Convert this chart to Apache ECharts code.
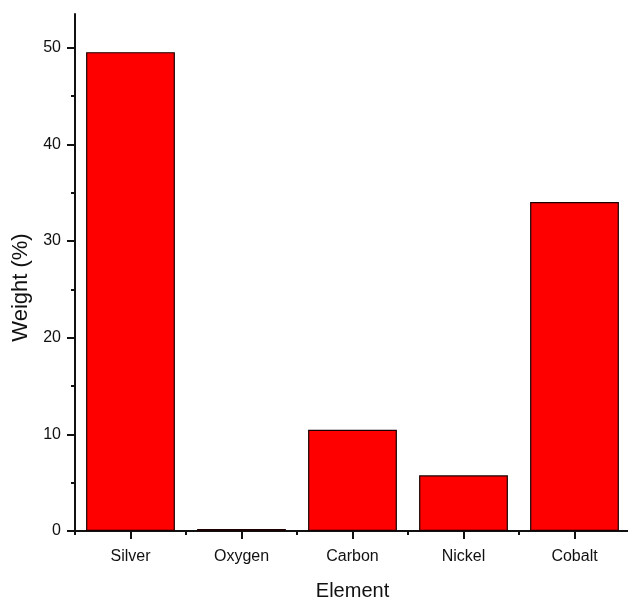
<!DOCTYPE html>
<html>
<head>
<meta charset="utf-8">
<script src="https://cdn.jsdelivr.net/npm/echarts@6/dist/echarts.min.js"></script>
<style>
  html, body { margin: 0; padding: 0; background: #fff; }
  #chart { width: 628px; height: 603px; }
</style>
</head>
<body>
<div id="chart"></div>
<script>
// Elemental composition (weight %)
const elements = ['Silver', 'Oxygen', 'Carbon', 'Nickel', 'Cobalt'];
const weights = [49.55, 0.2, 10.48, 5.76, 34.05];
const majorTicks = [0, 10, 20, 30, 40, 50];
const minorTicks = [5, 15, 25, 35, 45];

const FONT = '"Liberation Sans", Arial, sans-serif';
const INK = '#111';
const Y_MAX = 53.5;

const chart = echarts.init(document.getElementById('chart'), null, { renderer: 'canvas' });

chart.setOption({
  animation: false,
  backgroundColor: '#fff',
  grid: { left: 75, right: -2, top: 14, bottom: 72, containLabel: false, outerBoundsMode: 'none' },
  xAxis: [
    {
      type: 'category',
      data: elements,
      position: 'bottom',
      name: 'Element',
      nameLocation: 'middle',
      nameGap: 50,
      nameTextStyle: { fontFamily: FONT, fontSize: 20, color: INK },
      axisLine: { show: true, lineStyle: { color: INK, width: 2 } },
      axisTick: { show: true, interval: 0, alignWithLabel: true, length: 8, lineStyle: { color: INK, width: 2 } },
      axisLabel: { fontFamily: FONT, fontSize: 16, color: INK, margin: 18 },
      splitLine: { show: false }
    },
    {
      type: 'category',
      data: elements,
      position: 'bottom',
      axisLine: { show: false },
      axisTick: { show: true, interval: 0, alignWithLabel: false, length: 4, lineStyle: { color: INK, width: 2 } },
      axisLabel: { show: false },
      splitLine: { show: false }
    }
  ],
  yAxis: [
    {
      type: 'value',
      position: 'left',
      min: 0,
      max: Y_MAX,
      interval: 10,
      name: 'Weight (%)',
      nameLocation: 'middle',
      nameGap: 42,
      nameRotate: 90,
      nameTextStyle: { fontFamily: FONT, fontSize: 22, color: INK, padding: [0, 30, 0, 0] },
      axisLine: { show: true, lineStyle: { color: INK, width: 2 } },
      axisTick: { show: true, length: 8, customValues: majorTicks, lineStyle: { color: INK, width: 2 } },
      axisLabel: { fontFamily: FONT, fontSize: 16, color: INK, margin: 14, customValues: majorTicks },
      splitLine: { show: false }
    },
    {
      type: 'value',
      position: 'left',
      min: 0,
      max: Y_MAX,
      interval: 10,
      axisLine: { show: false },
      axisTick: { show: true, length: 4, customValues: minorTicks, lineStyle: { color: INK, width: 2 } },
      axisLabel: { show: false },
      splitLine: { show: false }
    }
  ],
  series: [
    {
      type: 'bar',
      data: weights,
      xAxisIndex: 0,
      yAxisIndex: 0,
      barWidth: '80%',
      itemStyle: { color: '#ff0000', borderColor: '#1a0000', borderWidth: 1.2 }
    }
  ]
});
</script>
</body>
</html>
